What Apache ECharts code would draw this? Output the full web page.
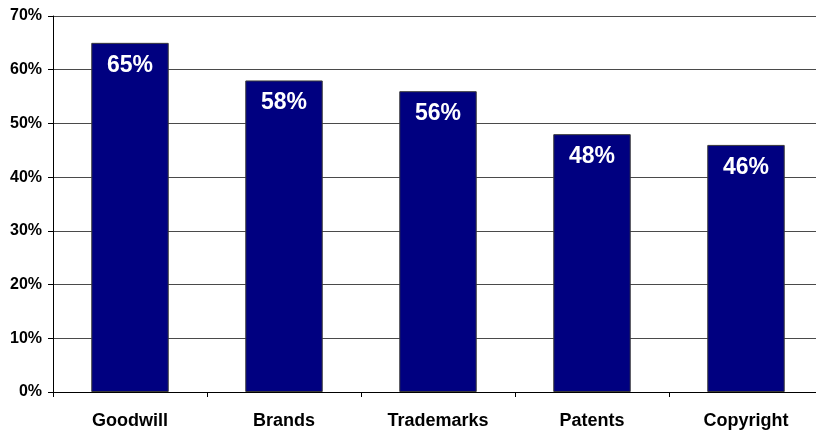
<!DOCTYPE html>
<html>
<head>
<meta charset="utf-8">
<script src="https://cdn.jsdelivr.net/npm/echarts@6/dist/echarts.min.js"></script>
<style>
  html, body { margin: 0; padding: 0; background: #fff; overflow: hidden; }
  /* the drawing is a little wider than the window; its right edge is clipped */
  #wrap { width: 816px; height: 430px; overflow: hidden; }
  #chart { width: 824px; height: 430px; }
</style>
</head>
<body>
<div id="wrap"><div id="chart"></div></div>
<script>
// Share of respondents citing each intangible asset type
const categories = ['Goodwill', 'Brands', 'Trademarks', 'Patents', 'Copyright'];
const shares = [65, 58, 56, 48, 46];
const yTicks = [0, 10, 20, 30, 40, 50, 60, 70];

const chart = echarts.init(document.getElementById('chart'), null, { renderer: 'canvas' });
const font = 'Liberation Sans, Arial, sans-serif';

chart.setOption({
  animation: false,
  backgroundColor: '#ffffff',
  grid: { left: 53, right: 1, top: 16, bottom: 38, containLabel: false },
  xAxis: {
    type: 'category',
    data: categories,
    axisLine: { show: true, lineStyle: { color: '#000', width: 1 } },
    axisTick: { show: true, alignWithLabel: false, length: 5, lineStyle: { color: '#000' } },
    axisLabel: { color: '#000', fontFamily: font, fontWeight: 'bold', fontSize: 18, margin: 20 },
    splitLine: { show: false }
  },
  yAxis: {
    type: 'value',
    min: yTicks[0],
    max: yTicks[yTicks.length - 1],
    interval: 10,
    axisLine: { show: true, lineStyle: { color: '#000', width: 1 } },
    axisTick: { show: true, length: 5, lineStyle: { color: '#000' } },
    axisLabel: {
      color: '#000', fontFamily: font, fontWeight: 'bold', fontSize: 16, margin: 11,
      formatter: v => v + '%'
    },
    splitLine: { show: true, lineStyle: { color: '#4a4a4a', width: 1 } }
  },
  series: [{
    type: 'bar',
    data: shares,
    barWidth: '50.3%',
    itemStyle: { color: '#000080', borderColor: '#3a3a3a', borderWidth: 1 },
    label: {
      show: true,
      position: 'insideTop',
      distance: 11,
      color: '#fff',
      fontFamily: font,
      fontWeight: 'bold',
      fontSize: 23,
      formatter: p => p.value + '%'
    }
  }]
});
</script>
</body>
</html>
